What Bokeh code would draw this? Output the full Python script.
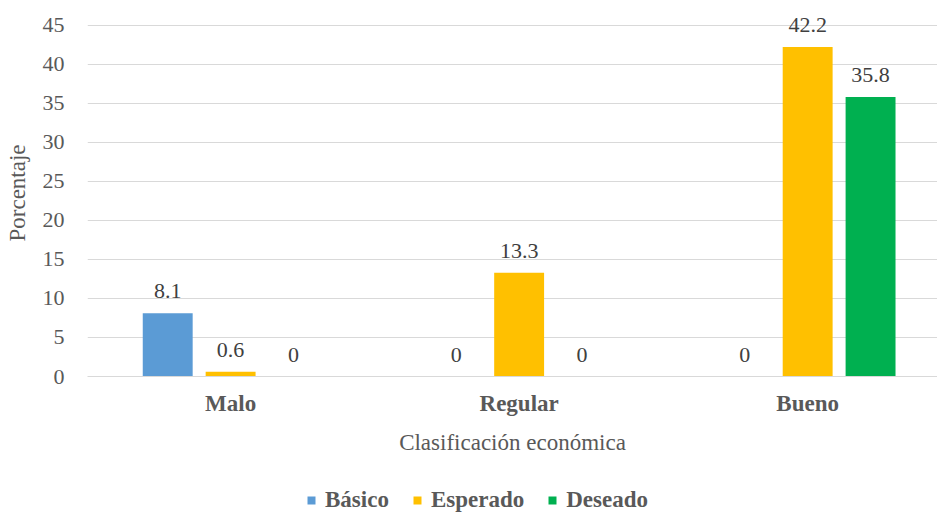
from bokeh.plotting import figure
from bokeh.layouts import column
from bokeh.models import (ColumnDataSource, LabelSet, Range1d, FixedTicker,
                          Legend, LegendItem)
from bokeh.transform import dodge
from bokeh.embed import file_html
from bokeh.resources import INLINE

categorias = ["Malo", "Regular", "Bueno"]
series = ["Básico", "Esperado", "Deseado"]
basico = [8.1, 0, 0]
esperado = [0.6, 13.3, 42.2]
deseado = [0, 0, 35.8]
colores = ["#5B9BD5", "#FFC000", "#00B050"]
y_ticks = [0, 5, 10, 15, 20, 25, 30, 35, 40, 45]

FONT = "Liberation Serif"
pos = list(range(len(categorias)))

p = figure(width=937, height=460, x_range=Range1d(-0.496, 2.45),
           y_range=Range1d(0, 47), output_backend="svg", toolbar_location=None,
           min_border_left=87, min_border_top=9, min_border_right=0,
           min_border_bottom=84)
p.outline_line_color = None
p.xgrid.grid_line_color = None
p.ygrid.grid_line_color = "#D9D9D9"
p.ygrid.grid_line_width = 1
p.yaxis.ticker = FixedTicker(ticks=y_ticks)
p.xaxis.ticker = FixedTicker(ticks=pos)
p.xaxis.major_label_overrides = {i: c for i, c in enumerate(categorias)}

for ax in (p.xaxis[0], p.yaxis[0]):
    ax.major_tick_line_color = None
    ax.minor_tick_line_color = None
    ax.major_label_text_font = FONT
    ax.major_label_text_color = "#595959"
    ax.axis_label_text_font = FONT
    ax.axis_label_text_font_size = "23px"
    ax.axis_label_text_color = "#595959"
    ax.axis_label_text_font_style = "normal"

p.yaxis.major_label_text_font_size = "22px"
p.xaxis.major_label_text_font_size = "23px"
p.yaxis.axis_line_color = None
p.xaxis.axis_line_color = "#D9D9D9"
p.yaxis.axis_label = "Porcentaje"
p.xaxis.axis_label = "Clasificación económica"
p.xaxis.major_label_text_font_style = "bold"
p.yaxis.major_label_standoff = 17
p.yaxis.axis_label_standoff = 10
p.xaxis.major_label_standoff = 8
p.xaxis.axis_label_standoff = 11

bw = 0.173
off = 0.218
offsets = [-off, 0, off]
vals = [basico, esperado, deseado]
sources = []
for name, v, c, o in zip(series, vals, colores, offsets):
    src = ColumnDataSource(dict(x=pos, y=v, lbl=[f"{a:g}" for a in v]))
    sources.append(src)
    p.vbar(x=dodge("x", o), top="y", width=bw, source=src,
           fill_color=c, line_color=None)
    p.add_layout(LabelSet(x=dodge("x", o), y="y", text="lbl", source=src,
                          y_offset=15, text_align="center",
                          text_baseline="alphabetic", text_font=FONT,
                          text_font_size="22px", text_color="#404040"))

# legend strip (its bars lie outside its own view; only the swatches show)
pl = figure(width=937, height=53, x_range=Range1d(100, 101),
            y_range=Range1d(100, 101), output_backend="svg",
            toolbar_location=None, min_border=0,
            x_axis_location=None, y_axis_location=None)
pl.outline_line_color = None
pl.xgrid.visible = False
pl.ygrid.visible = False
items = []
for name, c, src in zip(series, colores, sources):
    r = pl.vbar(x="x", top="y", width=bw, source=src, fill_color=c,
                line_color=None)
    items.append(LegendItem(label=name, renderers=[r]))
legend = Legend(items=items, orientation="horizontal", location=(219, 0),
                padding=0, margin=0, spacing=23, label_standoff=9,
                glyph_width=10, glyph_height=10, border_line_color=None,
                background_fill_alpha=0, label_text_font=FONT,
                label_text_font_size="23px", label_text_font_style="bold",
                label_text_color="#595959")
pl.add_layout(legend, "center")

layout = column(p, pl, spacing=0)
open("out.html", "w").write(file_html(layout, INLINE))
